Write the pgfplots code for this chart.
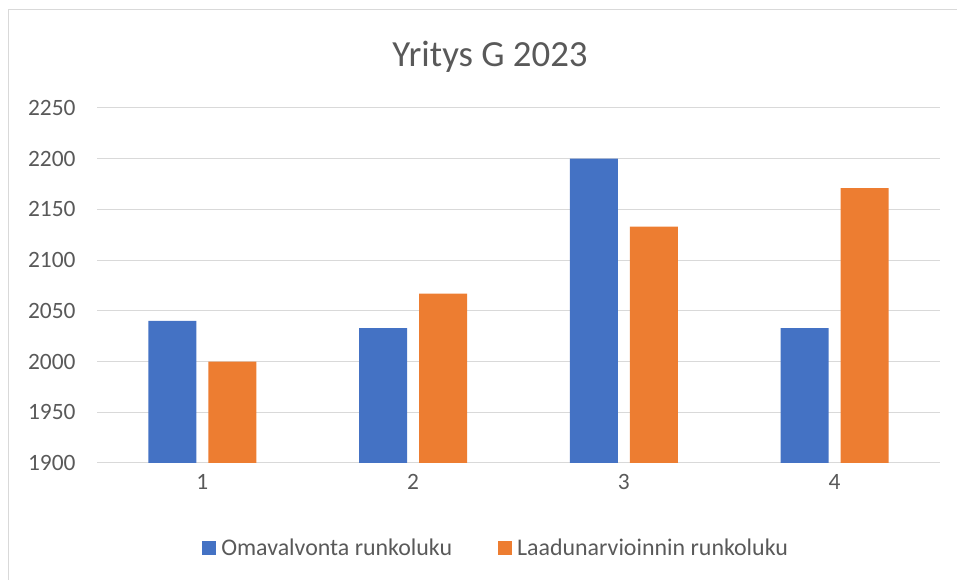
\documentclass[border=0pt]{standalone}
\usepackage{pgfplots}
\pgfplotsset{compat=1.18}
\usepackage{fontspec}
\setmainfont{Carlito}
\definecolor{cblue}{HTML}{4472C4}
\definecolor{corange}{HTML}{ED7D31}
\definecolor{cgrid}{HTML}{D9D9D9}
\definecolor{ctext}{HTML}{595959}
\begin{document}
\begin{tikzpicture}[x=1bp,y=1bp]
\path[use as bounding box] (0,0) rectangle (957,580);
\draw[cgrid, line width=1bp] (8,0) -- (8,570) -- (957,570);
\node[anchor=base, text=ctext, font=\fontsize{37}{44}\selectfont] at (490,513.5) {Yritys G 2023};
\begin{axis}[
  at={(97bp,117bp)}, anchor=south west,
  scale only axis, width=843bp, height=355bp,
  xmin=0.5, xmax=4.5, ymin=1900, ymax=2250,
  xtick={1,2,3,4}, ytick={1900,1950,...,2250},
  ybar, bar width=48bp,
  axis line style={draw=none},
  ymajorgrids, grid style={cgrid, line width=1bp},
  major tick length=0pt,
  tick label style={text=ctext, font=\fontsize{23.5}{28}\selectfont},
  /pgf/number format/assume math mode=true,
  /pgf/number format/1000 sep={},
  yticklabel style={xshift=-18bp},
  xticklabel style={yshift=-8bp},
  legend style={at={(0.4735,-0.239)}, anchor=center, draw=none, fill=none,
    legend columns=2, font=\fontsize{24}{28}\selectfont, text=ctext,
    /tikz/every odd column/.append style={column sep=3bp},
    /tikz/every even column/.append style={column sep=44bp}},
  legend image code/.code={\fill[draw=none] (0bp,-7bp) rectangle (14bp,7bp);},
]
\addplot[fill=cblue, draw=none, bar shift=-30bp] coordinates {(1,2040) (2,2033) (3,2200) (4,2033)};
\addplot[fill=corange, draw=none, bar shift=30bp] coordinates {(1,2000) (2,2067) (3,2133) (4,2171)};
\legend{Omavalvonta runkoluku, Laadunarvioinnin runkoluku}
\end{axis}
\end{tikzpicture}
\end{document}
